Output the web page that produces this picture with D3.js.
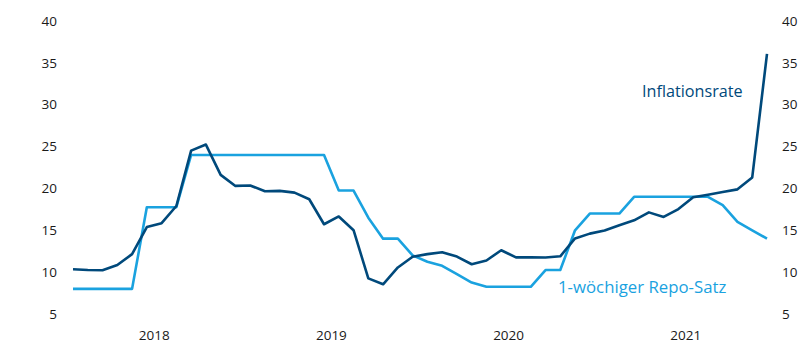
<!DOCTYPE html>
<html><head><meta charset="utf-8">
<script src="https://cdn.jsdelivr.net/npm/d3@7"></script>
<style>body{margin:0;background:#fff}svg{display:block}text{font-family:"Open Sans",sans-serif}</style>
</head><body><svg id="c" width="803" height="343"></svg>
<script>
const years = ["2018","2019","2020","2021"];
const inflation = [10.35,10.26,10.23,10.85,12.15,15.39,15.85,17.90,24.52,25.24,21.62,20.30,
  20.35,19.67,19.71,19.50,18.71,15.72,16.65,15.01,9.26,8.55,10.56,11.84,
  12.15,12.37,11.86,10.94,11.39,12.62,11.76,11.77,11.75,11.89,14.03,14.60,
  14.97,15.61,16.19,17.14,16.59,17.53,18.95,19.25,19.58,19.89,21.31,36.08];
const repo = [8,8,8,8,8,17.75,17.75,17.75,24,24,24,24,
  24,24,24,24,24,24,19.75,19.75,16.5,14,14,12,
  11.25,10.75,9.75,8.75,8.25,8.25,8.25,8.25,10.25,10.25,15,17,
  17,17,19,19,19,19,19,19,18,16,15,14];
const yTicks = [5,10,15,20,25,30,35,40];
const labels = {inflation:"Inflationsrate", repo:"1-wöchiger Repo-Satz"};
const colors = {inflation:"#00497b", repo:"#1aa2df"};

const svg = d3.select("#c");
const x = d3.scaleLinear().domain([0,47]).range([73,767]);
const y = d3.scaleLinear().domain([5,40]).range([314,21]);

svg.append("g").selectAll("text").data(yTicks).join("text")
  .attr("x",57).attr("y",d=>y(d)).attr("dy","0.35em").attr("text-anchor","end")
  .attr("font-size",13.5).attr("fill","#1a1a1a").text(d=>d);
svg.append("g").selectAll("text").data(yTicks).join("text")
  .attr("x",782).attr("y",d=>y(d)).attr("dy","0.35em").attr("text-anchor","start")
  .attr("font-size",13.5).attr("fill","#1a1a1a").text(d=>d);
svg.append("g").selectAll("text").data(years).join("text")
  .attr("x",(d,i)=>x(i*12+5.5)).attr("y",335).attr("dy","0.35em").attr("text-anchor","middle")
  .attr("font-size",13.5).attr("fill","#1a1a1a").text(d=>d);

const line = d3.line().x((d,i)=>x(i)).y(d=>y(d));
svg.append("path").datum(repo).attr("d",line).attr("fill","none")
  .attr("stroke",colors.repo).attr("stroke-width",2.6).attr("stroke-linejoin","round");
svg.append("path").datum(inflation).attr("d",line).attr("fill","none")
  .attr("stroke",colors.inflation).attr("stroke-width",2.6).attr("stroke-linejoin","round");

svg.append("text").attr("x",642).attr("y",91).attr("dy","0.35em").attr("font-size",16.2)
  .attr("fill",colors.inflation).text(labels.inflation);
svg.append("text").attr("x",558).attr("y",287).attr("dy","0.35em").attr("font-size",16.8)
  .attr("fill",colors.repo).text(labels.repo);
</script></body></html>
